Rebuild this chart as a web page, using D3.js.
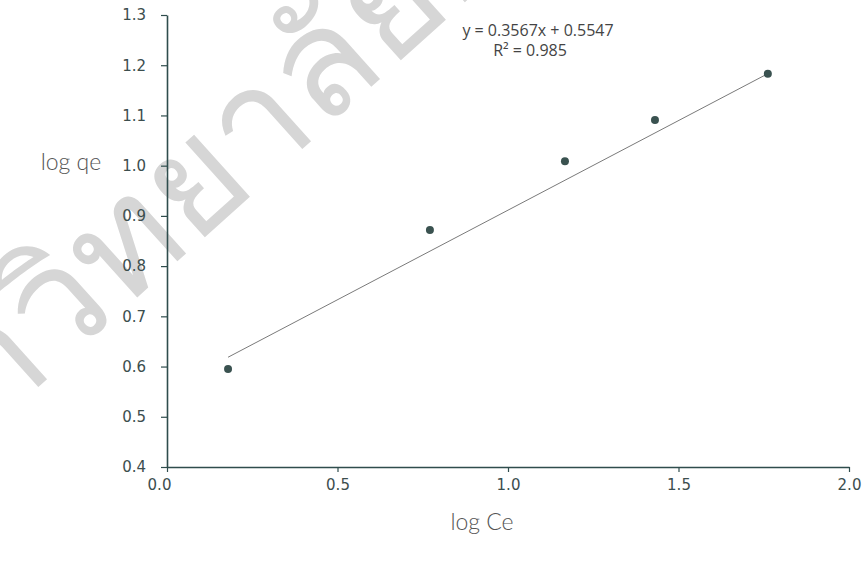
<!DOCTYPE html>
<html>
<head>
<meta charset="utf-8">
<script src="https://cdn.jsdelivr.net/npm/d3@7"></script>
<style>
  body { margin: 0; background: #fff; }
  svg { display: block; }
</style>
</head>
<body>
<svg id="chart" width="866" height="572"></svg>
<script>
// data
const logCe = [0.179, 0.771, 1.167, 1.431, 1.762];
const logQe = [0.595, 0.872, 1.009, 1.091, 1.183];
const xTicks = [0.0, 0.5, 1.0, 1.5, 2.0];
const yTicks = [0.4, 0.5, 0.6, 0.7, 0.8, 0.9, 1.0, 1.1, 1.2, 1.3];
const slope = 0.3567, intercept = 0.5547;
const eqText = "y = 0.3567x + 0.5547";
const r2Text = "R² = 0.985";
const watermark = "มหาวิทยาลัยศิลปากร";

const svg = d3.select("#chart");

// faint watermark behind everything
svg.append("text")
  .attr("transform", "translate(-152,558) rotate(-42)")
  .attr("font-family", "'Noto Sans', sans-serif")
  .attr("font-size", 150)
  .attr("fill", "#d6d6d6")
  .text(watermark);

const x = d3.scaleLinear().domain([0, 2]).range([167, 849]);
const y = d3.scaleLinear().domain([0.4, 1.3]).range([467, 15]);

const axisColor = "#2f4d4d";
const tickFont = "'DejaVu Sans', Verdana, sans-serif";

// y axis
let gy = svg.append("g")
  .attr("transform", "translate(" + x(0) + ",0)")
  .call(d3.axisLeft(y).tickValues(yTicks).tickFormat(d3.format(".1f")).tickSize(6).tickSizeOuter(0));
gy.select(".domain").attr("stroke", axisColor).attr("stroke-width", 1.6);
gy.selectAll(".tick line").attr("stroke", axisColor).attr("stroke-width", 1.2);
gy.selectAll(".tick text")
  .attr("x", -21)
  .attr("fill", "#3c4e4e")
  .attr("font-family", tickFont)
  .attr("font-size", 15);

// x axis
let gx = svg.append("g")
  .attr("transform", "translate(0," + y(0.4) + ")")
  .call(d3.axisBottom(x).tickValues(xTicks).tickFormat(d3.format(".1f")).tickSize(5).tickSizeOuter(0));
gx.select(".domain").attr("stroke", axisColor).attr("stroke-width", 1.6);
gx.selectAll(".tick line").attr("stroke", axisColor).attr("stroke-width", 1.2);
gx.selectAll(".tick text")
  .attr("y", 12)
  .attr("fill", "#3c4e4e")
  .attr("font-family", tickFont)
  .attr("font-size", 15);
gx.selectAll(".tick text").filter(d => d === 0).attr("dx", -8);

// trend line
const xs = d3.extent(logCe);
svg.append("path")
  .datum(xs)
  .attr("fill", "none")
  .attr("stroke", "#7a7a7a")
  .attr("stroke-width", 1)
  .attr("d", d3.line().x(d => x(d)).y(d => y(slope * d + intercept)));

// points
svg.append("g").selectAll("circle")
  .data(logCe)
  .enter()
  .append("circle")
  .attr("cx", d => x(d))
  .attr("cy", (d, i) => y(logQe[i]))
  .attr("r", 4)
  .attr("fill", "#3a5250");

// equation
const eq = svg.append("text")
  .attr("text-anchor", "middle")
  .attr("font-family", "'Open Sans', sans-serif")
  .attr("font-size", 16)
  .attr("fill", "#444");
eq.append("tspan").attr("x", 538).attr("y", 36).text(eqText);
eq.append("tspan").attr("x", 530).attr("y", 56).text(r2Text);

// axis titles
const titleFont = "Lato, 'Open Sans', sans-serif";
svg.append("text")
  .attr("x", 71)
  .attr("y", 170)
  .attr("text-anchor", "middle")
  .attr("font-family", titleFont)
  .attr("font-weight", 300)
  .attr("font-size", 23)
  .attr("fill", "#555")
  .text("log qe");
svg.append("text")
  .attr("x", 482)
  .attr("y", 530)
  .attr("text-anchor", "middle")
  .attr("font-family", titleFont)
  .attr("font-weight", 300)
  .attr("font-size", 23)
  .attr("fill", "#555")
  .text("log Ce");
</script>
</body>
</html>
